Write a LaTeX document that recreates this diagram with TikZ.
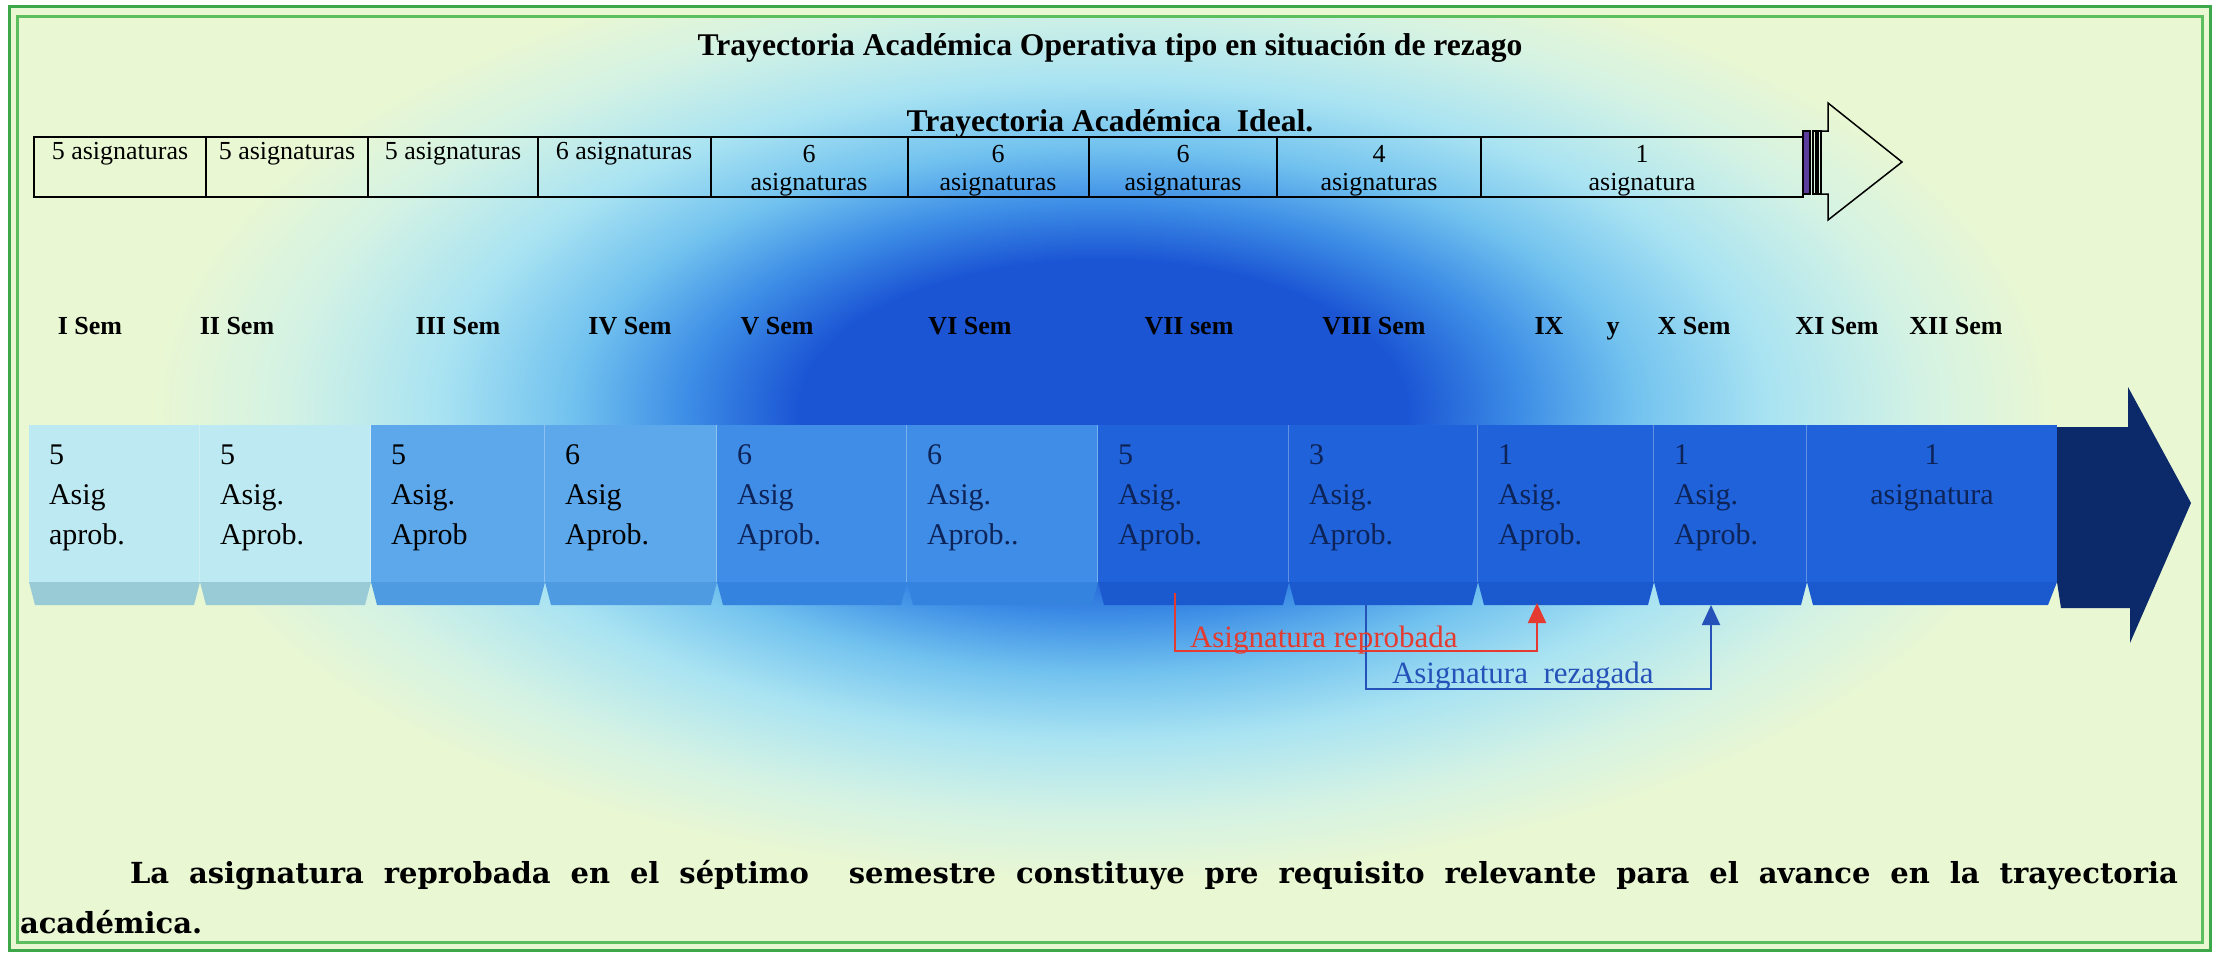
\documentclass[tikz,border=0pt]{standalone}
\usepackage{fontspec}
\setmainfont{Liberation Serif}
\newfontfamily\notefont{DejaVu Serif}
\usetikzlibrary{calc,arrows.meta}

\definecolor{bgcol}{HTML}{E9F7D3}
\definecolor{glowcore}{HTML}{1B55D4}
\definecolor{glowmid}{HTML}{3D8EE6}
\definecolor{glowlight}{HTML}{72C2EF}
\definecolor{glowcyan}{HTML}{A9E3F2}
\definecolor{glowpale}{HTML}{D3F2E4}
\definecolor{frameA}{HTML}{3DA84A}
\definecolor{frameB}{HTML}{5CBF5E}
\definecolor{segA}{HTML}{BCE9F2}
\definecolor{tabA}{HTML}{99CBD6}
\definecolor{segB}{HTML}{5CA8EA}
\definecolor{tabB}{HTML}{4E9BE2}
\definecolor{segC}{HTML}{3F8DE6}
\definecolor{tabC}{HTML}{3483DE}
\definecolor{segD}{HTML}{1F62D9}
\definecolor{tabD}{HTML}{1B59CF}
\definecolor{headcol}{HTML}{0C2A6A}
\definecolor{inkdark}{HTML}{0E2357}
\definecolor{redcol}{HTML}{E53A2F}
\definecolor{bluecol}{HTML}{2452B8}
\definecolor{stripecol}{HTML}{5B3D9E}

\pgfdeclareradialshading{glow}{\pgfpoint{0bp}{0bp}}{color(0bp)=(glowcore); color(8bp)=(glowcore); color(11bp)=(glowmid); color(14bp)=(glowlight); color(17.5bp)=(glowcyan); color(21.5bp)=(glowpale); color(25bp)=(bgcol); color(50bp)=(bgcol)}

\begin{document}
\begin{tikzpicture}[x=0.5pt,y=-0.5pt,every node/.style={inner sep=0pt,outer sep=0pt}]
\tikzstyle{heading}=[font=\fontsize{15.8}{18}\selectfont\bfseries]
\tikzstyle{cell}=[font=\fontsize{13}{14}\selectfont,align=center]
\tikzstyle{semlabel}=[font=\fontsize{13}{15}\selectfont\bfseries]
\tikzstyle{segtext}=[font=\fontsize{15}{20}\selectfont,align=left]
\tikzstyle{outline}=[line width=0.75pt]
\tikzstyle{linkred}=[redcol,line width=1pt,-{Triangle[length=10pt,width=9pt]}]
\tikzstyle{linkblue}=[bluecol,line width=1pt,-{Triangle[length=10pt,width=9pt]}]
\tikzstyle{linktext}=[font=\fontsize{15.5}{18}\selectfont]
\tikzstyle{note}=[font=\notefont\fontsize{14.5}{25}\selectfont\bfseries]

\useasboundingbox (0,0) rectangle (2218,954);
\fill[white] (0,0) rectangle (2218,954);
\fill[bgcol] (9,6) rectangle (2210,950);
\begin{scope}
  \clip (17,16) rectangle (2202,942);
  \shade[shading=glow] (1103,410) ellipse [x radius=950,y radius=470];
\end{scope}
\draw[frameA,line width=1.5pt] (9,6) rectangle (2210,950);
\draw[frameB,line width=1.5pt] (17,16) rectangle (2202,942);

\node (title) [heading,anchor=base] at (1110,55) {Trayectoria Académica Operativa tipo en situación de rezago};
\node (ideal) [heading,anchor=base] at (1110,131) {Trayectoria Académica~~Ideal.};

\draw[outline] (34,137) rectangle (1803,197);
\foreach \x in {206,368,538,711,908,1089,1277,1481}
  \draw[outline] (\x,137) -- (\x,197);
\filldraw[outline,fill=stripecol] (1803,131) rectangle (1810,194);
\draw[outline] (1813,131) rectangle (1816,194) (1818,131) rectangle (1821,194);
\draw[outline] (1821,131) -- (1828,131) -- (1828,103) -- (1902,162) -- (1828,220) -- (1828,194) -- (1821,194);

\foreach \x/\t [count=\i] in {120/5 asignaturas,287/5 asignaturas,453/5 asignaturas,624/6 asignaturas}
  \node (cell\i) [cell,anchor=base] at (\x,159) {\t};
\foreach \x/\n/\w [count=\i from 5] in {809/6/asignaturas,998/6/asignaturas,1183/6/asignaturas,1379/4/asignaturas,1642/1/asignatura}
  \node (cell\i) [cell,anchor=north] at (\x,145) {\n\\\w};

\foreach \x/\t [count=\i] in {90/I Sem,237/II Sem,458/III Sem,630/IV Sem,777/V Sem,970/VI Sem,1189/VII sem,1374/VIII Sem,1549/IX,1613/y,1694/X Sem,1837/XI Sem,1956/XII Sem}
  \node (sem\i) [semlabel,anchor=base] at (\x,334) {\t};

\foreach \xl/\xr/\body/\tab/\ink/\txt [count=\i] in {
  29/200/segA/tabA/black/{5\\Asig\\aprob.},
  200/371/segA/tabA/black/{5\\Asig.\\Aprob.},
  371/545/segB/tabB/black/{5\\Asig.\\Aprob},
  545/717/segB/tabB/black/{6\\Asig\\Aprob.},
  717/907/segC/tabC/inkdark/{6\\Asig\\Aprob.},
  907/1098/segC/tabC/inkdark/{6\\Asig.\\Aprob..},
  1098/1289/segD/tabD/inkdark/{5\\Asig.\\Aprob.},
  1289/1478/segD/tabD/inkdark/{3\\Asig.\\Aprob.},
  1478/1654/segD/tabD/inkdark/{1\\Asig.\\Aprob.},
  1654/1807/segD/tabD/inkdark/{1\\Asig.\\Aprob.}}
{
  \fill[\body] (\xl,425) rectangle (\xr,582);
  \fill[\tab] (\xl,582) -- (\xr,582) -- (\xr-6,605) -- (\xl+6,605) -- cycle;
  \draw[white,opacity=0.3,line width=0.6pt] (\xr,425) -- (\xr,582);
  \node (seg\i) [segtext,text=\ink,anchor=north west] at (\xl+20,445) {\txt};
}
\fill[segD] (1807,425) rectangle (2057,582);
\fill[tabD] (1807,582) -- (2057,582) -- (2048,605) -- (1813,605) -- cycle;
\node (seg11) [segtext,text=inkdark,align=center,anchor=north] at (1932,445) {1\\asignatura};
\fill[headcol] (2057,427) -- (2128,427) -- (2128,387) -- (2191,503) -- (2130,643) -- (2130,608) -- (2061,608) -- (2057,582) -- cycle;

\coordinate (rez-from) at (1366,605);
\coordinate (rez-to) at (1711,605);
\draw[linkblue] (rez-from) -- ++(0,84) -| (rez-to);
\node (rez-label) [linktext,text=bluecol,anchor=base west] at (1392,683) {Asignatura\ \ rezagada};

\coordinate (rep-from) at (1175,593);
\coordinate (rep-to) at (1537,603);
\draw[linkred] (rep-from) -- ++(0,58) -| (rep-to);
\node (rep-label) [linktext,text=redcol,anchor=base west] at (1190,647) {Asignatura reprobada};

\node (note-a) [note,anchor=base west] at (130,883) {\makebox[1024pt][s]{La asignatura reprobada en el séptimo\ \ semestre constituye pre requisito relevante para el avance en la trayectoria}};
\node (note-b) [note,anchor=base west] at (20,933) {académica.};
\end{tikzpicture}
\end{document}
